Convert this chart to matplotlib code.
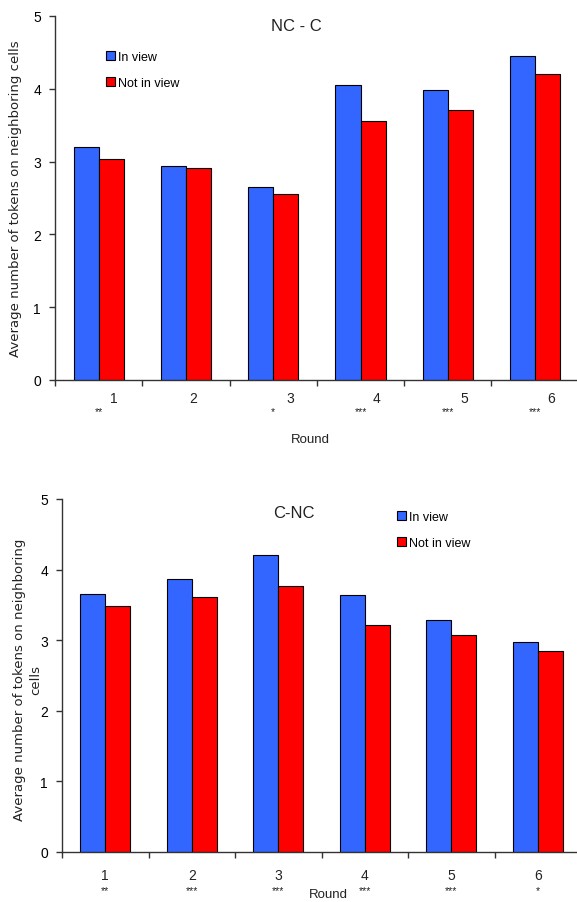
import matplotlib
matplotlib.use("Agg")
import matplotlib.pyplot as plt
import matplotlib.transforms as mtransforms
from matplotlib.patches import Patch
import numpy as np

plt.rcParams['font.family'] = ['Liberation Sans', 'DejaVu Sans']

rounds = ["1", "2", "3", "4", "5", "6"]
series_names = ["In view", "Not in view"]

# NC - C
top_title = "NC - C"
top_in_view = [3.20, 2.94, 2.65, 4.05, 3.98, 4.45]
top_not_in_view = [3.04, 2.91, 2.55, 3.56, 3.71, 4.20]
top_signif = ["**", "", "*", "***", "***", "***"]

# C-NC
bot_title = "C-NC"
bot_in_view = [3.66, 3.86, 4.21, 3.64, 3.29, 2.98]
bot_not_in_view = [3.48, 3.61, 3.77, 3.22, 3.07, 2.85]
bot_signif = ["**", "***", "***", "***", "***", "*"]

ylabel_top = "Average number of tokens on neighboring cells"
ylabel_bot = "Average number of tokens on neighboring\ncells"
xlabel = "Round"

BLUE = "#3366ff"
RED = "#ff0000"

W, H = 577, 903
fig = plt.figure(figsize=(W / 100, H / 100), dpi=100)


def px_axes(left, right, top, bottom):
    return [left / W, 1 - bottom / H, (right - left) / W, (bottom - top) / H]


def draw(ax, vin, vout, title, signif, num_offsets, num_y, sig_y, round_xy,
         title_xy, legend_xy, ylabel, ylabel_xy):
    x = np.arange(len(rounds))
    w = 0.287
    ax.bar(x - w / 2, vin, w, color=BLUE, edgecolor="black", linewidth=0.8,
           label=series_names[0])
    ax.bar(x + w / 2, vout, w, color=RED, edgecolor="black", linewidth=0.8,
           label=series_names[1])
    ax.set_xlim(-0.5, len(rounds) - 0.5)
    ax.set_ylim(0, 5)
    ax.set_yticks(range(6))
    ax.set_yticklabels([str(i) for i in range(6)], fontsize=10)
    ax.set_xticks(np.arange(len(rounds) + 1) - 0.5)
    ax.set_xticklabels([])
    for s in ("top", "right"):
        ax.spines[s].set_visible(False)
    for s in ("left", "bottom"):
        ax.spines[s].set_color("#333333")
        ax.spines[s].set_linewidth(1.0)
    ax.tick_params(axis="both", direction="out", length=4, width=1.0,
                   color="#333333", pad=6)
    trans = mtransforms.blended_transform_factory(ax.transData, ax.transAxes)
    for i, r in enumerate(rounds):
        ax.text(i + num_offsets[i], num_y, r, transform=trans, ha="center",
                va="center", fontsize=10, color="#222222")
        if signif[i]:
            ax.text(i, sig_y, signif[i], transform=trans, ha="center",
                    va="center", fontsize=7.5, color="#222222")
    ax.text(round_xy[0], round_xy[1], xlabel, transform=ax.transAxes,
            ha="center", va="center", fontsize=9.5, color="#222222")
    ax.text(title_xy[0], title_xy[1], title, transform=ax.transAxes,
            ha="center", va="center", fontsize=12, color="#222222")
    handles = [Patch(facecolor=BLUE, edgecolor="black", linewidth=0.8),
               Patch(facecolor=RED, edgecolor="black", linewidth=0.8)]
    ax.legend(handles, series_names, loc="upper left",
              bbox_to_anchor=legend_xy, bbox_transform=ax.transAxes,
              frameon=False, fontsize=9, handlelength=0.7,
              handleheight=0.7, handletextpad=0.25, labelspacing=1.1,
              borderpad=0, borderaxespad=0)
    ax.set_ylabel(ylabel, fontsize=9.5, color="#222222", linespacing=1.3,
                  family=["DejaVu Sans"], multialignment="center")
    ax.yaxis.set_label_coords(*ylabel_xy)


ax1 = fig.add_axes(px_axes(55, 55 + 6 * 87.3, 17, 381))
draw(ax1, top_in_view, top_not_in_view, top_title, top_signif,
     num_offsets=[0.17, 0.08, 0.19, 0.18, 0.19, 0.18],
     num_y=(381 - 399) / 364, sig_y=(381 - 412) / 364,
     round_xy=((310 - 55) / 524, (381 - 440) / 364),
     title_xy=((296 - 55) / 524, (381 - 27) / 364),
     legend_xy=((106 - 55) / 524, (381 - 52) / 364),
     ylabel=ylabel_top, ylabel_xy=((22 - 55) / 524, 0.5))

ax2 = fig.add_axes(px_axes(62, 62 + 6 * 86.5, 500, 853))
draw(ax2, bot_in_view, bot_not_in_view, bot_title, bot_signif,
     num_offsets=[0, 0, 0, 0, 0, 0],
     num_y=(853 - 876) / 353, sig_y=(853 - 891) / 353,
     round_xy=((328 - 62) / 519, (853 - 895) / 353),
     title_xy=((294 - 62) / 519, (853 - 513) / 353),
     legend_xy=((397 - 62) / 519, (853 - 512) / 353),
     ylabel=ylabel_bot, ylabel_xy=((42 - 62) / 519, 0.49))

fig.savefig("out.png", dpi=100)
